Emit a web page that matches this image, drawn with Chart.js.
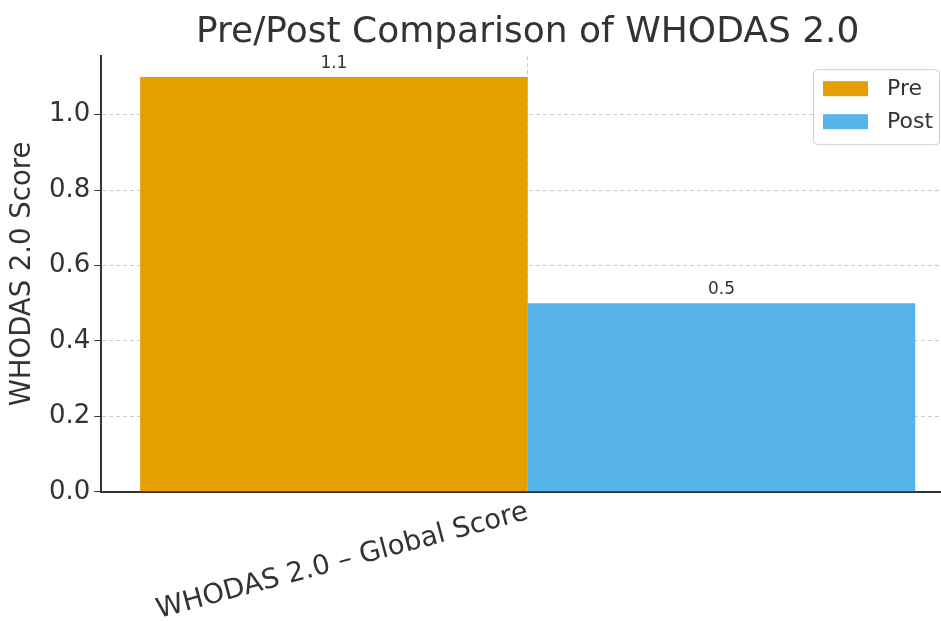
<!DOCTYPE html>
<html>
<head>
<meta charset="utf-8">
<script src="https://cdn.jsdelivr.net/npm/chart.js@4.4.0/dist/chart.umd.min.js"></script>
<style>
  html, body { margin: 0; padding: 0; background: #fff; overflow: hidden; }
  #wrap { width: 941px; height: 621px; overflow: hidden; }
</style>
</head>
<body>
<div id="wrap"><canvas id="chart" width="968" height="621"></canvas></div>
<script>
// Data
const categories = ['WHODAS 2.0 \u2013 Global Score'];
const seriesNames = ['Pre', 'Post'];
const preValues = [1.1];
const postValues = [0.5];
const yTicks = [0.0, 0.2, 0.4, 0.6, 0.8, 1.0];

const colors = ['#E69F00', '#56B4E9'];
const textColor = '#333333';
const fontFamily = '"DejaVu Sans", sans-serif';

// Value labels above bars
const valueLabels = {
    id: 'valueLabels',
    afterDatasetsDraw(chart) {
        const ctx = chart.ctx;
        ctx.save();
        ctx.font = '17px ' + fontFamily;
        ctx.fillStyle = textColor;
        ctx.textAlign = 'center';
        ctx.textBaseline = 'bottom';
        chart.data.datasets.forEach((ds, i) => {
            chart.getDatasetMeta(i).data.forEach((bar, j) => {
                ctx.fillText(ds.data[j].toFixed(1), bar.x, bar.y - 5);
            });
        });
        ctx.restore();
    }
};

// Legend box in the upper right corner of the plot
const innerLegend = {
    id: 'innerLegend',
    afterDraw(chart) {
        const ctx = chart.ctx;
        const area = chart.chartArea;
        const w = 126, h = 75;
        const x = area.right - 15 - w;
        const y = area.top + 13;
        ctx.save();
        ctx.fillStyle = 'rgba(255,255,255,0.8)';
        ctx.strokeStyle = '#d0d0d0';
        ctx.lineWidth = 1;
        ctx.beginPath();
        ctx.roundRect(x + 0.5, y + 0.5, w, h, 4);
        ctx.fill();
        ctx.stroke();
        ctx.font = '22px ' + fontFamily;
        ctx.textBaseline = 'middle';
        chart.data.datasets.forEach((ds, i) => {
            const ry = y + 12 + i * 33;
            ctx.fillStyle = ds.backgroundColor;
            ctx.fillRect(x + 10, ry, 45, 15);
            ctx.fillStyle = textColor;
            ctx.fillText(ds.label, x + 74, ry + 8);
        });
        ctx.restore();
    }
};

new Chart(document.getElementById('chart'), {
    type: 'bar',
    data: {
        labels: categories,
        datasets: [
            { label: seriesNames[0], data: preValues, backgroundColor: colors[0] },
            { label: seriesNames[1], data: postValues, backgroundColor: colors[1] }
        ]
    },
    options: {
        responsive: false,
        devicePixelRatio: 1,
        animation: false,
        layout: { padding: { left: 6, right: 14, top: 0, bottom: -10 } },
        datasets: {
            bar: { categoryPercentage: 0.909, barPercentage: 1.0 }
        },
        plugins: {
            legend: { display: false },
            tooltip: { enabled: false },
            title: {
                display: true,
                fullSize: false,
                text: 'Pre/Post Comparison of WHODAS 2.0',
                color: textColor,
                font: { family: fontFamily, size: 36, weight: 'normal' },
                padding: { top: 11, bottom: 2 }
            }
        },
        scales: {
            x: {
                grid: {
                    display: true,
                    offset: false,
                    color: '#cccccc',
                    drawTicks: false
                },
                border: { display: true, color: '#333333', width: 2, dash: [4, 3] },
                ticks: {
                    color: textColor,
                    font: { family: fontFamily, size: 27.5 },
                    maxRotation: 15,
                    minRotation: 15,
                    padding: 4
                }
            },
            y: {
                min: 0,
                max: 1.155,
                afterBuildTicks(scale) {
                    scale.ticks = yTicks.map(v => ({ value: v }));
                },
                grid: {
                    color: '#cccccc',
                    tickColor: '#333333',
                    tickLength: 7,
                    tickBorderDash: []
                },
                border: { display: true, color: '#333333', width: 2, dash: [4, 3] },
                ticks: {
                    color: textColor,
                    font: { family: fontFamily, size: 26 },
                    padding: 4,
                    callback: v => Number(v).toFixed(1)
                },
                title: {
                    display: true,
                    text: 'WHODAS 2.0 Score',
                    color: textColor,
                    font: { family: fontFamily, size: 27.5 },
                    padding: { top: 0, bottom: 6 }
                }
            }
        }
    },
    plugins: [valueLabels, innerLegend]
});
</script>
</body>
</html>
